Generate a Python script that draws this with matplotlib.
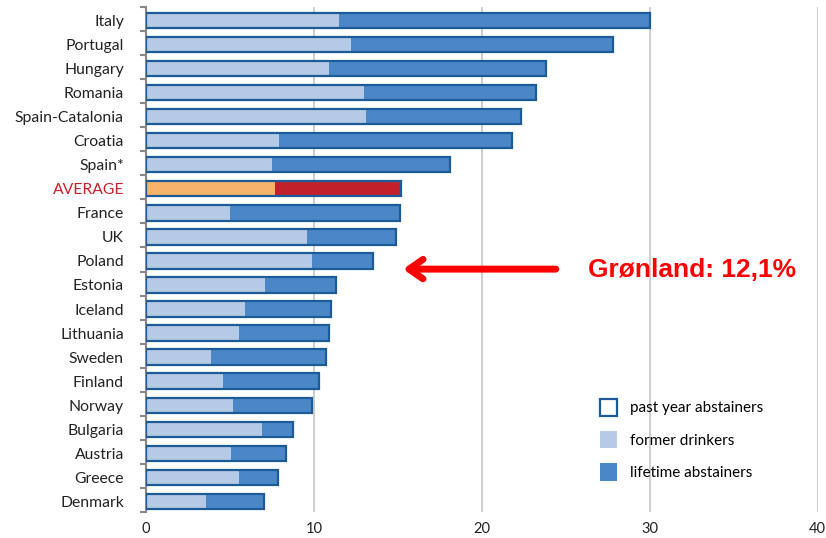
import numpy as np
import matplotlib
matplotlib.use('Agg')
import matplotlib.pyplot as plt
from matplotlib.patches import Patch

# data (percent of population)
countries = ['Italy', 'Portugal', 'Hungary', 'Romania', 'Spain-Catalonia', 'Croatia',
             'Spain*', 'AVERAGE', 'France', 'UK', 'Poland', 'Estonia', 'Iceland',
             'Lithuania', 'Sweden', 'Finland', 'Norway', 'Bulgaria', 'Austria',
             'Greece', 'Denmark']
past_year = [30.0, 27.8, 23.8, 23.2, 22.3, 21.8, 18.1, 15.2, 15.1, 14.9, 13.5, 11.3,
             11.0, 10.9, 10.7, 10.3, 9.85, 8.75, 8.35, 7.85, 7.0]
former = [11.5, 12.2, 10.9, 13.0, 13.1, 7.9, 7.5, 7.65, 5.0, 9.6, 9.9, 7.1, 5.9,
          5.5, 3.85, 4.55, 5.15, 6.9, 5.05, 5.5, 3.55]
x_ticks = [0, 10, 20, 30, 40]
greenland_label = 'Grønland: 12,1%'

# colours
edge = '#1b5c98'
light = '#b5cae5'
dark = '#4b87c6'
avg_light = '#f8b36b'
avg_dark = '#c2202b'
avg_text = '#c8202a'

plt.rcParams['font.family'] = ['Lato', 'DejaVu Sans']

fig = plt.figure(figsize=(8.26, 5.38), dpi=100)
ax = fig.add_axes([0.177, 0.0483, 0.813, 0.9387])

y = np.arange(len(countries))
former = np.array(former)
past_year = np.array(past_year)
lifetime = past_year - former
is_avg = np.array([c == 'AVERAGE' for c in countries])

h = 0.64
yb = y + 0.06  # bars sit a touch below the row middle
c_light = [avg_light if a else light for a in is_avg]
c_dark = [avg_dark if a else dark for a in is_avg]
ax.barh(yb, former, height=h, color=c_light, zorder=2)
ax.barh(yb, lifetime, left=former, height=h, color=c_dark, zorder=2)
ax.barh(yb, past_year, height=h, facecolor='none', edgecolor=edge, lw=1.6, zorder=3)

ax.set_xlim(0, 40)
ax.set_ylim(len(countries) - 0.5, -0.5)

ax.set_xticks(x_ticks)
ax.tick_params(axis='x', length=0, labelsize=10.5, pad=7, colors='#222222')
ax.xaxis.grid(True, color='#cfcfcf', lw=1.5, zorder=0)

ax.set_yticks(yb)
ax.set_yticklabels(countries)
ax.tick_params(axis='y', which='major', length=0, labelsize=11.3, pad=16, colors='#222222')
for lab in ax.get_yticklabels():
    if lab.get_text() == 'AVERAGE':
        lab.set_color(avg_text)
ax.set_yticks(np.arange(len(countries) + 1) - 0.5, minor=True)
ax.tick_params(axis='y', which='minor', length=4, width=1.5, color='#888888')

for s in ['top', 'right', 'bottom']:
    ax.spines[s].set_visible(False)
ax.spines['left'].set_color('#888888')
ax.spines['left'].set_linewidth(1.5)
ax.set_axisbelow(True)

handles = [Patch(facecolor='white', edgecolor=edge, lw=1.6),
           Patch(facecolor=light, edgecolor='none'),
           Patch(facecolor=dark, edgecolor='none')]
labels = ['past year abstainers', 'former drinkers', 'lifetime abstainers']
ax.legend(handles, labels, loc='lower left', bbox_to_anchor=(0.655, 0.035),
          frameon=False, handlelength=1.1, handleheight=1.35, labelspacing=1.0,
          handletextpad=0.9, fontsize=11)

# Greenland annotation
ax.annotate('', xy=(15.3, 10.4), xytext=(24.4, 10.4),
            arrowprops=dict(arrowstyle='->,head_length=1.0,head_width=0.7',
                            lw=5, color='#ff0000', shrinkA=0, shrinkB=0))
ax.text(26.3, 10.45, greenland_label, color='#ff0000', fontsize=19, fontweight='bold',
        family='Liberation Sans', va='center', ha='left')

fig.savefig('out.png', dpi=100)
